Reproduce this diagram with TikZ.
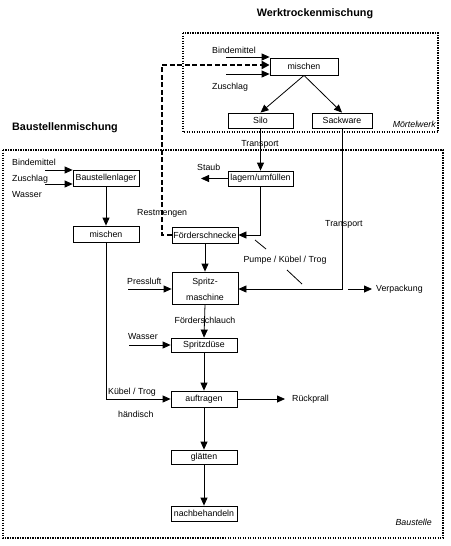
\documentclass[tikz,border=0pt]{standalone}
\usepackage{fontspec}
\setmainfont{Liberation Sans}
\usetikzlibrary{arrows.meta}
\begin{document}
\begin{tikzpicture}[x=1pt,y=-1pt,
  every node/.style={font=\fontsize{8.8}{10}\selectfont, inner sep=0pt},
  box/.style={draw, line width=0.8pt, minimum width=66pt, minimum height=16pt, align=center},
  arr/.style={line width=0.8pt, -{Triangle[length=8pt,width=7pt]}},
  ln/.style={line width=0.8pt},
  dotbox/.style={line width=1.3pt, dash pattern=on 1.2pt off 1.3pt},
  dashedthick/.style={line width=2.8pt, dash pattern=on 5pt off 2.5pt, -{Triangle[length=8pt,width=8pt]}},
  ttl/.style={font=\fontsize{10.8}{12}\selectfont\bfseries},
  lbl/.style={anchor=west},
  itl/.style={font=\fontsize{8.8}{10}\selectfont\itshape, anchor=east}]
\useasboundingbox (0,0) rectangle (450,546);

% regions
\draw[dotbox] (183,33) rectangle (438,132);
\draw[dotbox] (3,150) rectangle (443,538);
\node[ttl] (t1) at (315,14) {Werktrockenmischung};
\node[ttl, anchor=west] (t2) at (12,128) {Baustellenmischung};
\node[itl] (mw) at (436,124) {Mörtelwerk};
\node[itl] (bs) at (432,522) {Baustelle};

% boxes
\node[box, minimum width=68pt, minimum height=17pt] (mix1) at (304,66.5) {mischen};
\node[box, minimum width=65pt, minimum height=15pt] (silo) at (260.5,120.5) {Silo};
\node[box, minimum width=60pt, minimum height=15pt] (sack) at (342,120.5) {Sackware};
\node[box] (lager) at (106,178) {Baustellenlager};
\node[box] (mix2) at (106,234) {mischen};
\node[box, minimum width=65pt, minimum height=15pt] (lagern) at (260.5,178.5) {lagern/umfüllen};
\node[box] (foerd) at (205,235) {Förderschnecke};
\node[box, minimum height=32pt] (spritzm) at (205,288) {\rule{0pt}{9pt}Spritz-\\[6pt]maschine};
\node[box, minimum height=14pt] (duese) at (204,345) {Spritzdüse};
\node[box] (auf) at (204,399) {auftragen};
\node[box, minimum height=14pt] (glaett) at (204,457) {glätten};
\node[box, minimum height=15pt] (nach) at (204,513.5) {nachbehandeln};

% labels
\node[lbl] (lb1) at (212,50) {Bindemittel};
\node[lbl] (lz1) at (212,87) {Zuschlag};
\node (ltr1) at (260,144) {Transport};
\node[lbl] (lb2) at (12,162) {Bindemittel};
\node[lbl] (lz2) at (12,179) {Zuschlag};
\node[lbl] (lw2) at (12,195) {Wasser};
\node[lbl] (lst) at (197,167) {Staub};
\node[lbl] (lrm) at (137,213) {Restmengen};
\node[lbl] (ltr2) at (325,224) {Transport};
\node (lpk) at (285,260) {Pumpe / Kübel / Trog};
\node[lbl] (lpl) at (127,281) {Pressluft};
\node[lbl] (lvp) at (376,289) {Verpackung};
\node (lfs) at (205,320) {Förderschlauch};
\node[lbl] (lw3) at (128,337) {Wasser};
\node[lbl] (lkt) at (108,392) {Kübel / Trog};
\node[lbl] (lhd) at (118,414) {händisch};
\node[lbl] (lrp) at (292,399) {Rückprall};

% free-end coordinates
\coordinate (b1s) at (226,57);
\coordinate (z1s) at (226,74);
\coordinate (b2s) at (45,170);
\coordinate (z2s) at (45,184);
\coordinate (ste) at (201,178.5);
\coordinate (pls) at (128,289);
\coordinate (vps) at (348,289);
\coordinate (vpe) at (372,289);
\coordinate (w3s) at (129,345);
\coordinate (rpe) at (285,399);
\coordinate (dl) at (162,235);
\coordinate (du) at (162,65);

% connectors
\draw[arr] (b1s) -- (b1s -| mix1.west);
\draw[arr] (z1s) -- (z1s -| mix1.west);
\draw[dashedthick] (foerd.west) -- (dl) -- (du) -- (du -| mix1.west);
\draw[arr] (mix1.south) -- (silo.north);
\draw[arr] (mix1.south) -- (sack.north);
\draw[arr] (silo.south) -- (lagern.north);
\draw[arr] (sack.south) |- (vps -| spritzm.east);
\draw[arr] (lagern.west) -- (ste);
\draw[arr] (lagern.south) |- (foerd.east);
\draw[arr] (foerd.south) -- (spritzm.north);
\draw[arr] (pls) -- (pls -| spritzm.west);
\draw[arr] (vps) -- (vpe);
\draw[arr] (spritzm.south) -- (duese.north);
\draw[arr] (w3s) -- (w3s -| duese.west);
\draw[arr] (duese.south) -- (auf.north);
\draw[arr] (mix2.south) |- (auf.west);
\draw[arr] (auf.east) -- (rpe);
\draw[arr] (auf.south) -- (glaett.north);
\draw[arr] (glaett.south) -- (nach.north);
\draw[arr] (b2s) -- (b2s -| lager.west);
\draw[arr] (z2s) -- (z2s -| lager.west);
\draw[arr] (lager.south) -- (mix2.north);
\draw[ln] (255,240) -- (266,249);
\draw[ln] (287,270) -- (302,284);
\end{tikzpicture}
\end{document}
